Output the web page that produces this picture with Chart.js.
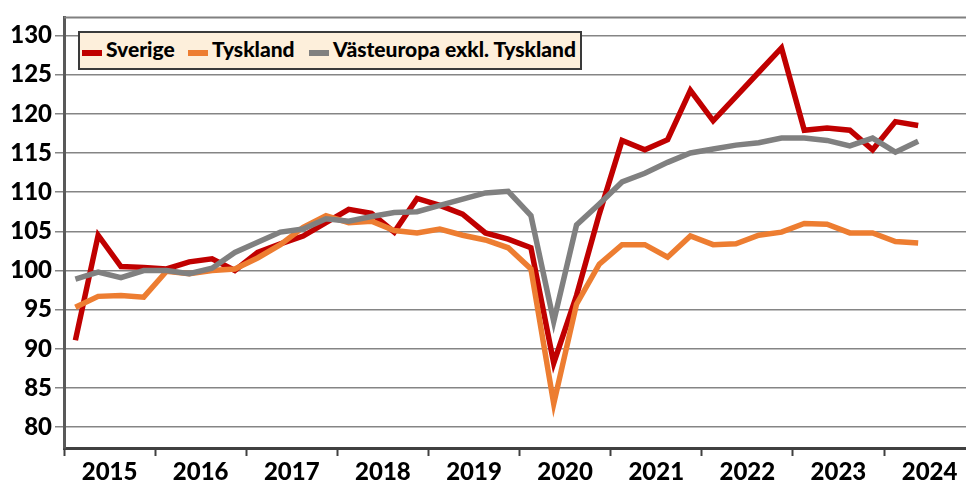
<!DOCTYPE html>
<html>
<head>
<meta charset="utf-8">
<script src="https://cdn.jsdelivr.net/npm/chart.js@4/dist/chart.umd.min.js"></script>
<style>
  body { margin: 0; background: #fff; }
  #wrap { position: relative; width: 966px; height: 481px; overflow: hidden; }
  #legend {
    position: absolute; left: 78px; top: 31px; width: 500px; height: 35px;
    background: #fdefdb; border: 2px solid #3a3a3a;
    font: 900 21px Lato, sans-serif; color: #000;
  }
  .item { position: absolute; top: 0; height: 35px; line-height: 32px; white-space: nowrap; }
  .swatch { display: inline-block; width: 20px; height: 6px; vertical-align: 1px; margin-right: 4px; }
</style>
</head>
<body>
<div id="wrap">
  <canvas id="chart" width="966" height="481"></canvas>
  <div id="legend"></div>
</div>
<script>
const years = ['2015', '2016', '2017', '2018', '2019', '2020', '2021', '2022', '2023', '2024'];
const yTicks = [80, 85, 90, 95, 100, 105, 110, 115, 120, 125, 130];

// quarterly index, 2015 K1 - 2024 K2
const sverige = [91.1, 104.5, 100.5, 100.4, 100.2, 101.1, 101.5, 100.0, 102.3, 103.4,
  104.4, 106.1, 107.8, 107.3, 104.9, 109.2, 108.3, 107.2, 104.8, 104.0,
  102.9, 88.2, 96.8, 107.2, 116.6, 115.4, 116.7, 123.0, 119.1, 122.2,
  125.3, 128.4, 117.9, 118.2, 117.9, 115.4, 119.0, 118.5];
const tyskland = [95.3, 96.7, 96.8, 96.6, 99.9, 99.6, 100.0, 100.2, 101.6, 103.3,
  105.5, 107.0, 106.1, 106.3, 105.1, 104.8, 105.3, 104.5, 103.9, 102.9,
  100.2, 83.0, 95.7, 100.8, 103.3, 103.3, 101.7, 104.4, 103.3, 103.4,
  104.5, 104.9, 106.0, 105.9, 104.8, 104.8, 103.7, 103.5];
const vasteuropa = [98.9, 99.8, 99.1, 100.0, 100.0, 99.6, 100.3, 102.3, 103.6, 104.9,
  105.3, 106.6, 106.3, 106.9, 107.4, 107.5, 108.3, 109.1, 109.9, 110.1,
  107.0, 93.5, 105.8, 108.5, 111.3, 112.4, 113.8, 115.0, 115.5, 116.0,
  116.3, 116.9, 116.9, 116.6, 115.9, 116.9, 115.1, 116.5];

const seriesNames = ['Sverige', 'Tyskland', 'Västeuropa exkl. Tyskland'];
const seriesColors = ['#c00000', '#ed7d31', '#808080'];

// each quarter sits in the middle of its slot on a linear axis
const toPoints = arr => arr.map((v, i) => ({ x: i + 0.5, y: v }));

// html legend
const legendLeft = [2, 108, 229];
const legend = document.getElementById('legend');
seriesNames.forEach((name, i) => {
  const item = document.createElement('div');
  item.className = 'item';
  item.style.left = legendLeft[i] + 'px';
  item.innerHTML = `<span class="swatch" style="background:${seriesColors[i]}"></span>${name}`;
  legend.appendChild(item);
});

// thin line along the top of the plot area
const topBorder = {
  id: 'topBorder',
  afterDraw(chart) {
    const { ctx, chartArea } = chart;
    ctx.save();
    ctx.strokeStyle = '#808080';
    ctx.lineWidth = 2;
    ctx.beginPath();
    ctx.moveTo(chartArea.left, chartArea.top);
    ctx.lineTo(chartArea.right, chartArea.top);
    ctx.stroke();
    ctx.restore();
  }
};

const tickFont = { family: 'Lato', size: 24, weight: '900' };

new Chart(document.getElementById('chart'), {
  type: 'line',
  data: {
    datasets: seriesNames.map((name, i) => ({
      label: name,
      data: toPoints([sverige, tyskland, vasteuropa][i]),
      borderColor: seriesColors[i],
      backgroundColor: seriesColors[i],
      borderWidth: 5.5,
      pointRadius: 0,
      tension: 0,
      order: 3 - i
    }))
  },
  options: {
    responsive: false,
    devicePixelRatio: 1,
    animation: false,
    layout: { padding: { top: 13, right: 0, left: 0, bottom: 0 } },
    plugins: { legend: { display: false }, tooltip: { enabled: false } },
    scales: {
      x: {
        type: 'linear',
        min: 0,
        max: 39.6,
        afterBuildTicks: scale => {
          const t = [];
          for (let v = 0; v < 40; v += 2) t.push({ value: v });
          scale.ticks = t;
        },
        afterFit: scale => { scale.height = 33; },
        grid: {
          drawOnChartArea: false,
          tickLength: 8,
          tickWidth: 2,
          tickColor: c => (c.tick && c.tick.value % 4 === 0) ? '#404040' : 'rgba(0,0,0,0)'
        },
        border: { color: '#404040', width: 3 },
        ticks: {
          autoSkip: false,
          maxRotation: 0,
          padding: 2,
          color: '#000',
          font: tickFont,
          callback: v => (v % 4 === 2) ? years[(v - 2) / 4] : ''
        }
      },
      y: {
        min: 77.35,
        max: 132.3,
        afterBuildTicks: scale => { scale.ticks = yTicks.map(v => ({ value: v })); },
        afterFit: scale => { scale.width = 64; },
        grid: { color: '#858585', lineWidth: 1.5, tickLength: 9 },
        border: { color: '#595959', width: 3 },
        ticks: { color: '#000', font: tickFont, padding: 3 }
      }
    }
  },
  plugins: [topBorder]
});
</script>
</body>
</html>
